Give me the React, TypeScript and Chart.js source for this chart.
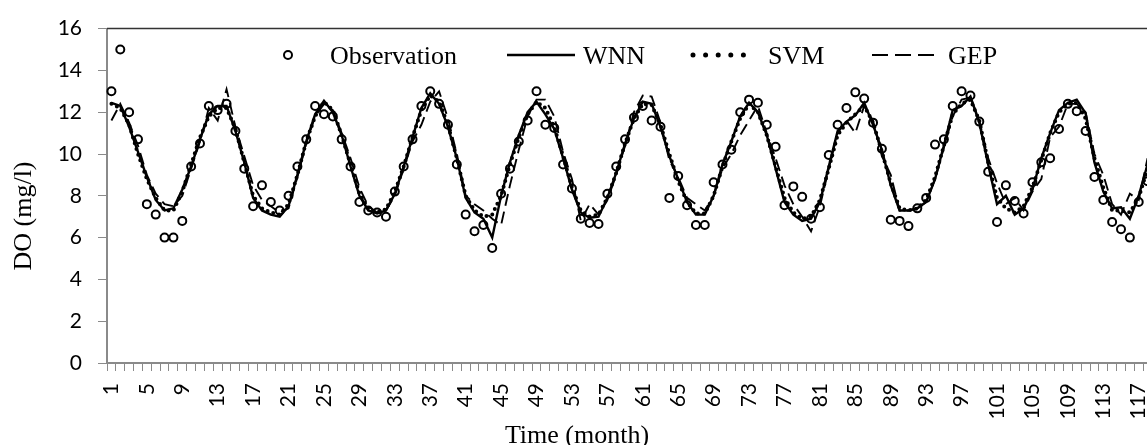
import React, { useEffect, useRef } from 'react';
import { Chart, registerables } from 'chart.js';

Chart.register(...registerables);

// ---- data ----
const MONTHS: string[] = Array.from({ length: 118 }, (_, i) => String(i + 1));

const OBSERVATION: number[] = [
  13.0, 15.0, 12.0, 10.7, 7.6, 7.1, 6.0, 6.0, 6.8, 9.4,
  10.5, 12.3, 12.1, 12.4, 11.1, 9.3, 7.5, 8.5, 7.7, 7.3,
  8.0, 9.4, 10.7, 12.3, 11.9, 11.8, 10.7, 9.4, 7.7, 7.3,
  7.2, 7.0, 8.2, 9.4, 10.7, 12.3, 13.0, 12.4, 11.4, 9.5,
  7.1, 6.3, 6.6, 5.5, 8.1, 9.3, 10.6, 11.6, 13.0, 11.4,
  11.25, 9.5, 8.35, 6.9, 6.7, 6.65, 8.1, 9.4, 10.7, 11.75,
  12.3, 11.6, 11.3, 7.9, 8.95, 7.55, 6.6, 6.6, 8.65, 9.5,
  10.2, 12.0, 12.6, 12.45, 11.4, 10.35, 7.55, 8.45, 7.95, 6.9,
  7.45, 9.95, 11.4, 12.2, 12.95, 12.65, 11.5, 10.25, 6.85, 6.8,
  6.55, 7.4, 7.9, 10.45, 10.7, 12.3, 13.0, 12.8, 11.55, 9.15,
  6.75, 8.5, 7.75, 7.15, 8.65, 9.6, 9.8, 11.2, 12.4, 12.05,
  11.1, 8.9, 7.8, 6.75, 6.4, 6.0, 7.7, 8.7,
];

const WNN: number[] = [
  12.45, 12.3, 11.3, 10.1, 8.9, 7.8, 7.3, 7.4, 8.3, 9.4,
  10.7, 11.9, 12.3, 12.3, 11.1, 9.6, 7.9, 7.3, 7.1, 7.0,
  7.5, 9.0, 10.6, 11.9, 12.55, 12.0, 10.9, 9.4, 8.0, 7.3,
  7.15, 7.3, 8.1, 9.4, 10.8, 12.2, 12.9, 12.4, 11.3, 9.8,
  7.9, 7.2, 6.9, 6.0, 8.0, 9.6, 10.9, 12.0, 12.5, 11.9,
  11.2, 9.8, 8.3, 7.2, 6.95, 7.0, 7.9, 9.1, 10.5, 11.7,
  12.5, 12.4, 11.3, 9.9, 8.8, 7.7, 7.1, 7.1, 8.0, 9.5,
  10.6, 11.8, 12.45, 12.0, 10.9, 9.3, 7.7, 7.1, 6.8, 6.9,
  7.7, 9.4, 11.1, 11.55, 11.85, 12.45, 11.4, 10.2, 8.5, 7.3,
  7.3, 7.4, 7.7, 8.8, 10.4, 12.1, 12.3, 12.75, 11.5, 9.5,
  7.6, 8.0, 7.1, 7.4, 8.3, 9.8, 11.0, 12.1, 12.45, 12.6,
  11.95, 9.6, 8.2, 7.4, 7.45, 6.9, 8.0, 9.5,
];

const SVM: number[] = [
  12.4, 12.2, 11.4, 10.0, 8.8, 7.9, 7.3, 7.3, 8.2, 9.5,
  10.8, 11.8, 12.2, 12.2, 11.2, 9.6, 8.0, 7.4, 7.2, 7.1,
  7.6, 9.0, 10.6, 11.8, 12.5, 12.1, 10.9, 9.5, 8.1, 7.4,
  7.2, 7.35, 8.2, 9.4, 10.8, 12.1, 12.8, 12.5, 11.4, 9.8,
  8.0, 7.3, 7.0, 7.1, 8.0, 9.5, 10.8, 11.9, 12.5, 12.2,
  11.3, 9.9, 8.4, 7.3, 7.0, 7.1, 7.9, 9.1, 10.5, 11.7,
  12.4, 12.35, 11.4, 10.0, 8.7, 7.7, 7.15, 7.15, 8.0, 9.4,
  10.6, 11.7, 12.4, 12.0, 10.9, 9.4, 7.9, 7.2, 6.9, 7.0,
  7.8, 9.3, 10.9, 11.5, 11.9, 12.3, 11.5, 10.1, 8.6, 7.4,
  7.3, 7.4, 7.8, 8.9, 10.4, 11.9, 12.4, 12.6, 11.6, 9.6,
  7.9, 7.4, 7.2, 7.5, 8.4, 9.7, 11.0, 12.0, 12.4, 12.45,
  11.7, 9.8, 8.4, 7.3, 7.3, 7.2, 7.9, 9.3,
];

const GEP: number[] = [
  11.6, 12.4, 11.5, 10.4, 9.0, 8.1, 7.6, 7.5, 8.0, 9.3,
  10.6, 12.2, 11.6, 13.1, 11.3, 9.9, 8.5, 7.8, 7.5, 7.2,
  7.4, 8.9, 10.5, 11.8, 12.4, 12.1, 11.0, 9.8, 8.4, 7.5,
  7.2, 7.3, 8.0, 9.3, 10.6, 11.4, 12.5, 13.0, 11.7, 10.0,
  8.0, 7.6, 7.3, 6.9, 6.6, 8.5, 10.2, 11.8, 12.6, 12.6,
  11.8, 10.1, 8.8, 6.8, 7.6, 7.1, 7.8, 9.0, 10.4, 12.0,
  12.8, 12.75, 11.5, 9.7, 8.9, 7.9, 7.6, 7.3, 8.0, 9.3,
  10.0, 10.9, 11.6, 12.3, 11.0, 9.8, 8.5, 7.6, 7.0, 6.3,
  7.5, 9.3, 11.0, 11.6, 11.0, 12.3, 11.6, 9.9, 9.0, 7.3,
  7.3, 7.4, 7.7, 8.8, 10.3, 11.8, 12.6, 12.7, 11.6, 9.8,
  8.6, 7.6, 7.9, 7.3, 8.2, 8.8, 10.8, 11.3, 12.4, 12.4,
  12.0, 10.0, 9.0, 7.6, 7.1, 8.1, 7.8, 9.8,
];

const Y_TICKS: number[] = [0, 2, 4, 6, 8, 10, 12, 14, 16];
const X_TITLE = 'Time (month)';
const Y_TITLE = 'DO (mg/l)';
const LEGEND_NAMES = ['Observation', 'WNN', 'SVM', 'GEP'];

const AXIS_GRAY = '#8a8a8a';
const SERIF = '"Liberation Serif", "Times New Roman", serif';
const SANS = 'Lato, "Open Sans", sans-serif';

const decorPlugin = {
  id: 'decor',
  afterDraw(chart: any) {
    const { ctx, chartArea } = chart;
    ctx.save();
    // top border of plot area
    ctx.strokeStyle = '#333';
    ctx.lineWidth = 1.5;
    ctx.beginPath();
    ctx.moveTo(chartArea.left, chartArea.top);
    ctx.lineTo(chartArea.right, chartArea.top);
    ctx.stroke();

    ctx.fillStyle = '#000';
    ctx.font = `26px ${SERIF}`;
    ctx.textAlign = 'center';
    ctx.textBaseline = 'alphabetic';
    ctx.fillText(X_TITLE, 577, 443);

    ctx.save();
    ctx.translate(24, 216);
    ctx.rotate(-Math.PI / 2);
    ctx.textBaseline = 'middle';
    ctx.fillText(Y_TITLE, 0, 0);
    ctx.restore();

    // legend
    const ly = 55;
    const by = 64;
    ctx.textAlign = 'left';
    ctx.textBaseline = 'alphabetic';
    // observation marker
    ctx.strokeStyle = '#000';
    ctx.lineWidth = 2;
    ctx.beginPath();
    ctx.arc(288, ly, 4, 0, Math.PI * 2);
    ctx.stroke();
    ctx.fillText(LEGEND_NAMES[0], 330, by);
    // WNN
    ctx.lineWidth = 2.5;
    ctx.setLineDash([]);
    ctx.beginPath();
    ctx.moveTo(507, ly);
    ctx.lineTo(575, ly);
    ctx.stroke();
    ctx.fillText(LEGEND_NAMES[1], 583, by);
    // SVM
    ctx.lineWidth = 5;
    ctx.lineCap = 'round';
    ctx.setLineDash([0, 12.6]);
    ctx.beginPath();
    ctx.moveTo(693, ly);
    ctx.lineTo(756, ly);
    ctx.stroke();
    ctx.lineCap = 'butt';
    ctx.fillText(LEGEND_NAMES[2], 768, by);
    // GEP
    ctx.lineWidth = 2.2;
    ctx.setLineDash([16, 7]);
    ctx.beginPath();
    ctx.moveTo(872, ly);
    ctx.lineTo(936, ly);
    ctx.stroke();
    ctx.setLineDash([]);
    ctx.fillText(LEGEND_NAMES[3], 948, by);
    ctx.restore();
  },
};

export default function App() {
  const canvasRef = useRef<HTMLCanvasElement | null>(null);

  useEffect(() => {
    const canvas = canvasRef.current;
    if (!canvas) return;
    const chart = new Chart(canvas, {
      type: 'line',
      data: {
        labels: MONTHS,
        datasets: [
          {
            label: LEGEND_NAMES[0],
            data: OBSERVATION,
            showLine: false,
            pointStyle: 'circle',
            pointRadius: 4,
            pointBorderWidth: 2,
            borderColor: '#000',
            pointBorderColor: '#000',
            backgroundColor: 'rgba(0,0,0,0)',
            pointBackgroundColor: 'rgba(0,0,0,0)',
          },
          {
            label: LEGEND_NAMES[1],
            data: WNN,
            borderColor: '#000',
            borderWidth: 2.4,
            pointRadius: 0,
            tension: 0,
          },
          {
            label: LEGEND_NAMES[2],
            data: SVM,
            borderColor: '#000',
            borderWidth: 4,
            borderDash: [0, 6],
            borderCapStyle: 'round',
            pointRadius: 0,
            tension: 0,
          },
          {
            label: LEGEND_NAMES[3],
            data: GEP,
            borderColor: '#000',
            borderWidth: 1.9,
            borderDash: [12, 6],
            pointRadius: 0,
            tension: 0,
          },
        ],
      },
      options: {
        responsive: false,
        animation: false,
        events: [],
        layout: { padding: { top: 25, left: 0, right: 0, bottom: 0 } },
        plugins: {
          legend: { display: false },
          tooltip: { enabled: false },
          title: { display: false },
        },
        scales: {
          x: {
            type: 'category',
            offset: true,
            grid: {
              display: true,
              drawOnChartArea: false,
              drawTicks: true,
              tickLength: 8,
              offset: true,
              color: AXIS_GRAY,
              lineWidth: 1,
            },
            border: { display: true, color: AXIS_GRAY, width: 2 },
            ticks: {
              autoSkip: false,
              minRotation: 90,
              maxRotation: 90,
              padding: 12,
              color: '#000',
              font: { family: SANS, size: 21 },
              callback: (_v: any, i: number) => (i % 4 === 0 ? MONTHS[i] : ''),
            },
            afterFit: (s: any) => {
              s.height = 82;
              s.paddingLeft = 0;
              s.paddingRight = 0;
            },
          },
          y: {
            min: Y_TICKS[0],
            max: Y_TICKS[Y_TICKS.length - 1],
            afterBuildTicks: (s: any) => {
              s.ticks = Y_TICKS.map((v) => ({ value: v }));
            },
            grid: {
              display: true,
              drawOnChartArea: false,
              drawTicks: true,
              tickLength: 9,
              color: AXIS_GRAY,
              lineWidth: 1,
            },
            border: { display: true, color: AXIS_GRAY, width: 2 },
            ticks: {
              padding: 16,
              color: '#000',
              font: { family: SANS, size: 21 },
            },
            afterFit: (s: any) => {
              s.width = 107;
            },
          },
        },
      },
      plugins: [decorPlugin],
    });
    return () => chart.destroy();
  }, []);

  return (
    <div style={{ position: 'absolute', left: 0, top: 0, width: 1147, height: 445, overflow: 'hidden', background: '#fff' }}>
      <canvas ref={canvasRef} width={1158} height={445} style={{ display: 'block' }} />
    </div>
  );
}
